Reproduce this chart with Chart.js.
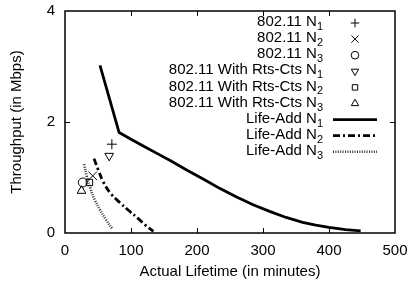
<!DOCTYPE html>
<html>
<head>
<meta charset="utf-8">
<script src="https://cdn.jsdelivr.net/npm/chart.js@4.4.1/dist/chart.umd.min.js"></script>
<style>
  html, body { margin: 0; padding: 0; background: #fff; }
</style>
</head>
<body>
<canvas id="chart" width="414" height="284"></canvas>
<script>
'use strict';

// ── Data ─────────────────────────────────────────────────────
const xTicks = [0, 100, 200, 300, 400, 500];
const yTicks = [0, 2, 4];

// measured points: 802.11 N1..N3, then With Rts-Cts N1..N3
const pointNames = ['802.11 N_1', '802.11 N_2', '802.11 N_3',
  '802.11 With Rts-Cts N_1', '802.11 With Rts-Cts N_2', '802.11 With Rts-Cts N_3'];
const pointLifetime   = [71, 42, 27, 67, 37, 25];
const pointThroughput = [1.60, 1.03, 0.91, 1.39, 0.91, 0.76];

// Life-Add model curves
const lineNames = ['Life-Add N_1', 'Life-Add N_2', 'Life-Add N_3'];
const n1Lifetime   = [53, 82, 100, 120, 140, 160, 185, 210, 235, 260, 285, 310, 335, 360, 380, 400, 425, 448];
const n1Throughput = [3.02, 1.81, 1.69, 1.56, 1.43, 1.30, 1.13, 0.97, 0.80, 0.65, 0.51, 0.39, 0.28, 0.19, 0.14, 0.10, 0.06, 0.04];
const n2Lifetime   = [44, 50, 58, 70, 83, 97, 111, 122, 134];
const n2Throughput = [1.34, 1.15, 0.92, 0.70, 0.55, 0.40, 0.26, 0.14, 0.03];
const n3Lifetime   = [29, 33, 38, 45, 53, 62, 72];
const n3Throughput = [1.24, 1.02, 0.82, 0.60, 0.42, 0.24, 0.07];

// ── Styles ───────────────────────────────────────────────────
const FONT = '"Liberation Sans", Arial, Helvetica, sans-serif';
const FS = 15;
const pointShapes = ['cross', 'crossRot', 'circle', 'triangle', 'rect', 'triangle'];
const pointRot    = [0, 0, 0, 180, 0, 0];
const pointSize   = [5, 6, 4.5, 5, 4.5, 5];

const zip = (xs, ys) => xs.map((x, i) => ({ x, y: ys[i] }));

const datasets = pointNames.map((name, i) => ({
  label: name,
  data: [{ x: pointLifetime[i], y: pointThroughput[i] }],
  showLine: false,
  pointStyle: pointShapes[i],
  rotation: pointRot[i],
  pointRadius: pointSize[i],
  borderColor: '#000',
  backgroundColor: 'rgba(0,0,0,0)',
  pointBorderWidth: 1
}));

const lineStyles = [
  { borderWidth: 2.8, borderDash: [], borderColor: '#000', tension: 0 },
  { borderWidth: 2.8, borderDash: [7, 3, 2, 3], borderColor: '#000', tension: 0.4 },
  { borderWidth: 2.6, borderDash: [1, 1.4], borderColor: '#333', tension: 0.4 }
];
[[n1Lifetime, n1Throughput], [n2Lifetime, n2Throughput], [n3Lifetime, n3Throughput]]
  .forEach(([xs, ys], i) => {
    datasets.push(Object.assign({
      label: lineNames[i],
      data: zip(xs, ys),
      showLine: true,
      pointRadius: 0,
      isLine: true
    }, lineStyles[i]));
  });

// ── Frame, inward ticks, titles and legend ───────────────────
function drawSubText(ctx, text, xRight, y, size) {
  const [main, sub] = text.split('_');
  const subSize = Math.round(size * 0.72);
  ctx.font = `${size}px ${FONT}`;
  const wMain = ctx.measureText(main).width;
  ctx.font = `${subSize}px ${FONT}`;
  const wSub = sub ? ctx.measureText(sub).width : 0;
  ctx.textAlign = 'left';
  ctx.textBaseline = 'middle';
  ctx.font = `${size}px ${FONT}`;
  ctx.fillText(main, xRight - wSub - wMain, y);
  if (sub) {
    ctx.font = `${subSize}px ${FONT}`;
    ctx.fillText(sub, xRight - wSub, y + 5);
  }
}

const framePlugin = {
  id: 'gnuFrame',
  afterDraw(chart) {
    const { ctx, chartArea: a, scales } = chart;
    ctx.save();
    ctx.strokeStyle = '#000';
    ctx.lineWidth = 1.5;
    ctx.strokeRect(a.left, a.top, a.right - a.left, a.bottom - a.top);
    ctx.lineWidth = 1;
    const t = 5;
    ctx.beginPath();
    xTicks.slice(1, -1).forEach(v => {
      const px = Math.round(scales.x.getPixelForValue(v)) + 0.5;
      ctx.moveTo(px, a.bottom); ctx.lineTo(px, a.bottom - t);
      ctx.moveTo(px, a.top); ctx.lineTo(px, a.top + t);
    });
    yTicks.slice(1, -1).forEach(v => {
      const py = Math.round(scales.y.getPixelForValue(v)) + 0.5;
      ctx.moveTo(a.left, py); ctx.lineTo(a.left + t, py);
      ctx.moveTo(a.right, py); ctx.lineTo(a.right - t, py);
    });
    ctx.stroke();

    // axis titles
    ctx.fillStyle = '#000';
    ctx.font = `${FS}px ${FONT}`;
    ctx.textAlign = 'center';
    ctx.textBaseline = 'middle';
    ctx.fillText('Actual Lifetime (in minutes)', (a.left + a.right) / 2, 272);
    ctx.translate(17, (a.top + a.bottom) / 2);
    ctx.rotate(-Math.PI / 2);
    ctx.fillText('Throughput (in Mbps)', 0, 0);
    ctx.restore();

    // legend
    ctx.save();
    const textRight = 323, symX = 355, top = 22, step = 16.1;
    chart.data.datasets.forEach((ds, i) => {
      const y = top + i * step;
      ctx.fillStyle = '#000';
      drawSubText(ctx, ds.label, textRight, y, FS);
      if (ds.isLine) {
        ctx.strokeStyle = ds.borderColor;
        ctx.lineWidth = ds.borderWidth;
        ctx.setLineDash(ds.borderDash);
        ctx.beginPath();
        ctx.moveTo(333, y + 1); ctx.lineTo(377, y + 1);
        ctx.stroke();
        ctx.setLineDash([]);
      } else {
        ctx.strokeStyle = '#000';
        ctx.fillStyle = 'rgba(0,0,0,0)';
        ctx.lineWidth = 1;
        Chart.helpers.drawPoint(ctx, {
          pointStyle: ds.pointStyle, rotation: ds.rotation,
          radius: ds.pointRadius * 0.85, borderWidth: 1
        }, symX, y + 1);
      }
    });
    ctx.restore();
  }
};

// ── Chart ────────────────────────────────────────────────────
new Chart(document.getElementById('chart'), {
  type: 'scatter',
  data: { datasets },
  options: {
    responsive: false,
    animation: false,
    devicePixelRatio: 1,
    layout: { padding: { top: 11, right: 19, left: 0, bottom: 0 } },
    plugins: { legend: { display: false }, tooltip: { enabled: false } },
    scales: {
      x: {
        type: 'linear', min: 0, max: 500,
        afterBuildTicks: s => { s.ticks = xTicks.map(v => ({ value: v })); },
        afterFit: s => { s.height = 51; s.paddingLeft = 0; s.paddingRight = 0; },
        grid: { display: false, drawTicks: false },
        border: { display: false },
        ticks: { color: '#000', font: { family: FONT, size: FS }, padding: 9, maxRotation: 0 }
      },
      y: {
        type: 'linear', min: 0, max: 4,
        afterBuildTicks: s => { s.ticks = yTicks.map(v => ({ value: v })); },
        afterFit: s => { s.width = 65; s.paddingTop = 0; s.paddingBottom = 0; },
        grid: { display: false, drawTicks: false },
        border: { display: false },
        ticks: { color: '#000', font: { family: FONT, size: FS }, padding: 10 }
      }
    }
  },
  plugins: [framePlugin]
});
</script>
</body>
</html>
